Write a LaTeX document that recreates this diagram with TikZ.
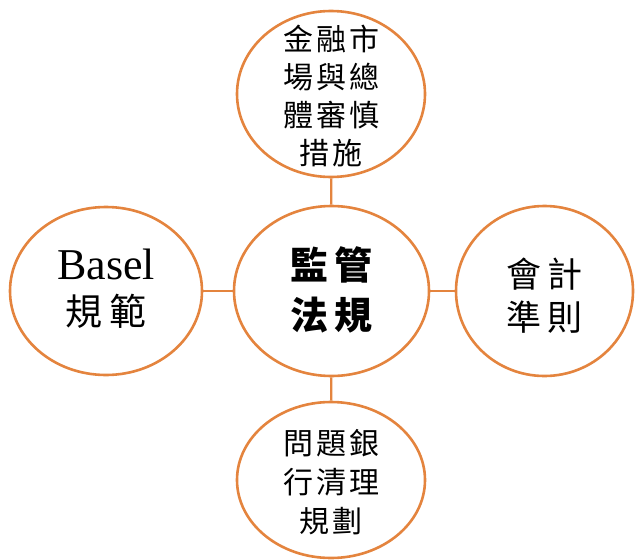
\documentclass[tikz,border=0pt]{standalone}
\usepackage{fontspec}
\setmainfont{Liberation Serif}
\newfontfamily\cjk{Noto Sans CJK TC}
\usetikzlibrary{shapes.geometric}
\definecolor{ring}{RGB}{228,132,62}
\tikzset{
  bubble/.style={ellipse, draw=ring, line width=2.6pt, fill=white, inner sep=0pt},
  words/.style={inner sep=0pt, align=center, text=black},
  link/.style={draw=ring, line width=2.2pt},
}
\newcommand{\gs}{\hspace{3pt}}
\newcommand{\gm}{\hspace{6pt}}
\begin{document}
\begin{tikzpicture}[x=1pt,y=-1pt]
\useasboundingbox (0,0) rectangle (636,559);
\node[bubble, minimum width=188pt, minimum height=166pt] (top) at (331,94) {};
\node[bubble, minimum width=195pt, minimum height=170pt] (center) at (331.5,291) {};
\node[bubble, minimum width=192pt, minimum height=168pt] (left) at (106,291) {};
\node[bubble, minimum width=177pt, minimum height=170pt] (right) at (544.5,291) {};
\node[bubble, minimum width=188pt, minimum height=156pt] (bottom) at (331,480) {};
\node[words, font=\cjk\fontsize{30}{38}\selectfont] (topT) at (331,96) {金\gs{}融\gs{}市\\場\gs{}與\gs{}總\\體\gs{}審\gs{}慎\\措\gs{}施};
\node[words, font=\cjk\bfseries\fontsize{38}{50}\selectfont] (centerT) at (331.5,290) {監\gm{}管\\法\gm{}規};
\node[words, font=\fontsize{44}{46}\selectfont] (leftT) at (106,289) {Basel\\{\cjk\fontsize{37}{46}\selectfont 規\hspace{7pt}範}};
\node[words, font=\cjk\fontsize{35}{43}\selectfont] (rightT) at (544.5,296) {會\gm{}計\\準\gm{}則};
\node[words, font=\cjk\fontsize{30}{39}\selectfont] (bottomT) at (331,482) {問\gs{}題\gs{}銀\\行\gs{}清\gs{}理\\規\gs{}劃};
\draw[link] (top) -- (center);
\draw[link] (center) -- (bottom);
\draw[link] (left) -- (center);
\draw[link] (center) -- (right);
\end{tikzpicture}
\end{document}
